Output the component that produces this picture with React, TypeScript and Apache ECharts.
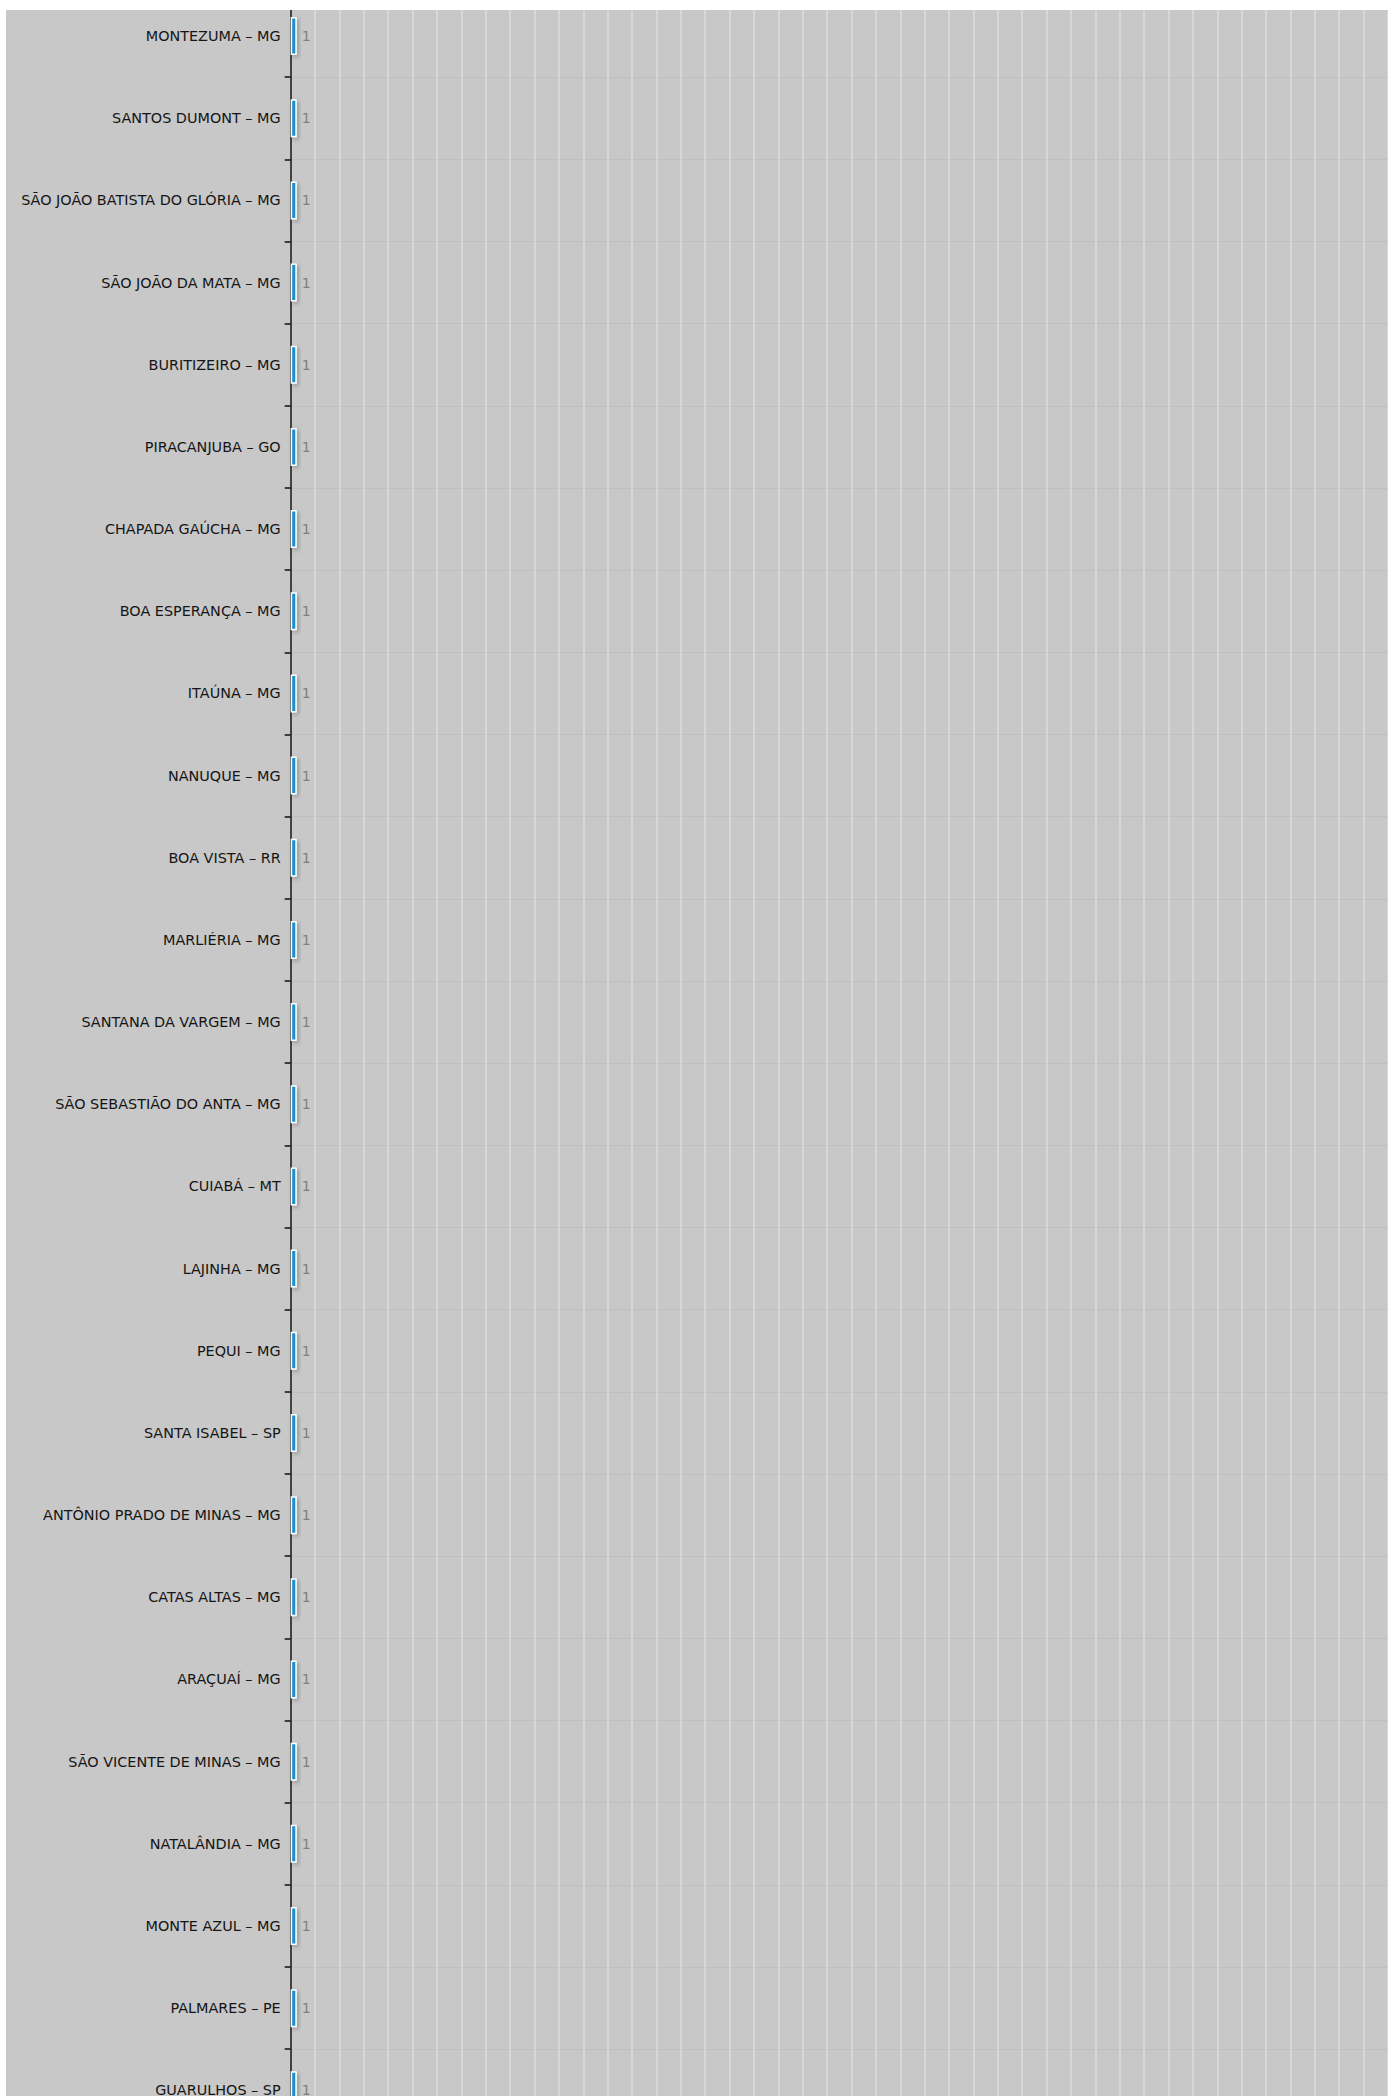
import React, { useEffect, useRef } from "react";
import * as echarts from "echarts";

const categories: string[] = [
  "MONTEZUMA – MG",
  "SANTOS DUMONT – MG",
  "SÃO JOÃO BATISTA DO GLÓRIA – MG",
  "SÃO JOÃO DA MATA – MG",
  "BURITIZEIRO – MG",
  "PIRACANJUBA – GO",
  "CHAPADA GAÚCHA – MG",
  "BOA ESPERANÇA – MG",
  "ITAÚNA – MG",
  "NANUQUE – MG",
  "BOA VISTA – RR",
  "MARLIÉRIA – MG",
  "SANTANA DA VARGEM – MG",
  "SÃO SEBASTIÃO DO ANTA – MG",
  "CUIABÁ – MT",
  "LAJINHA – MG",
  "PEQUI – MG",
  "SANTA ISABEL – SP",
  "ANTÔNIO PRADO DE MINAS – MG",
  "CATAS ALTAS – MG",
  "ARAÇUAÍ – MG",
  "SÃO VICENTE DE MINAS – MG",
  "NATALÂNDIA – MG",
  "MONTE AZUL – MG",
  "PALMARES – PE",
  "GUARULHOS – SP",
];

const values: number[] = [
  1, 1, 1, 1, 1, 1, 1, 1, 1, 1, 1, 1, 1, 1, 1, 1, 1, 1, 1, 1, 1, 1, 1, 1, 1, 1,
];

const axisMax = 180;
const axisInterval = 4;

export default function App() {
  const ref = useRef<HTMLDivElement>(null);
  useEffect(() => {
    if (!ref.current) return;
    const chart = echarts.init(ref.current, undefined, { renderer: "svg" });
    chart.setOption({
      animation: false,
      backgroundColor: "#c8c8c8",
      grid: { left: 284.7, top: 0, width: 1098.3, height: 2136.4, containLabel: false },
      xAxis: {
        type: "value",
        min: 0,
        max: axisMax,
        interval: axisInterval,
        axisLine: { show: false },
        axisTick: { show: false },
        axisLabel: { show: false },
        splitLine: { show: true, lineStyle: { color: "#dcdcdc", width: 1.5 } },
      },
      yAxis: {
        type: "category",
        inverse: true,
        data: categories,
        axisLine: { show: true, lineStyle: { color: "#111", width: 1.5 } },
        axisTick: { show: true, length: 6, lineStyle: { color: "#111", width: 1.5 } },
        axisLabel: {
          margin: 10,
          color: "#151515",
          fontSize: 14.4,
          fontFamily: "DejaVu Sans",
        },
        splitLine: { show: true, lineStyle: { color: "#bebebe", width: 1 } },
      },
      series: [
        {
          type: "bar",
          data: values,
          barWidth: 38,
          itemStyle: {
            color: "#1a8fce",
            borderColor: "#ffffff",
            borderWidth: 1.5,
            shadowBlur: 4,
            shadowColor: "rgba(0,0,0,0.25)",
            shadowOffsetX: 2,
            shadowOffsetY: 2,
          },
          label: {
            show: true,
            position: "right",
            distance: 5,
            color: "#808080",
            fontSize: 14,
            fontFamily: "DejaVu Sans",
          },
        },
      ],
    });
    return () => chart.dispose();
  }, []);
  return (
    <div
      style={{
        position: "absolute",
        left: 0,
        top: 0,
        width: 1397,
        height: 2096,
        overflow: "hidden",
        background: "#ffffff",
      }}
    >
      <div
        style={{
          position: "absolute",
          left: 6,
          top: 10,
          width: 1382,
          height: 2086,
          overflow: "hidden",
          background: "#c8c8c8",
        }}
      >
        <div
          ref={ref}
          style={{ position: "absolute", left: 0, top: -15, width: 1382, height: 2180 }}
        />
      </div>
    </div>
  );
}
